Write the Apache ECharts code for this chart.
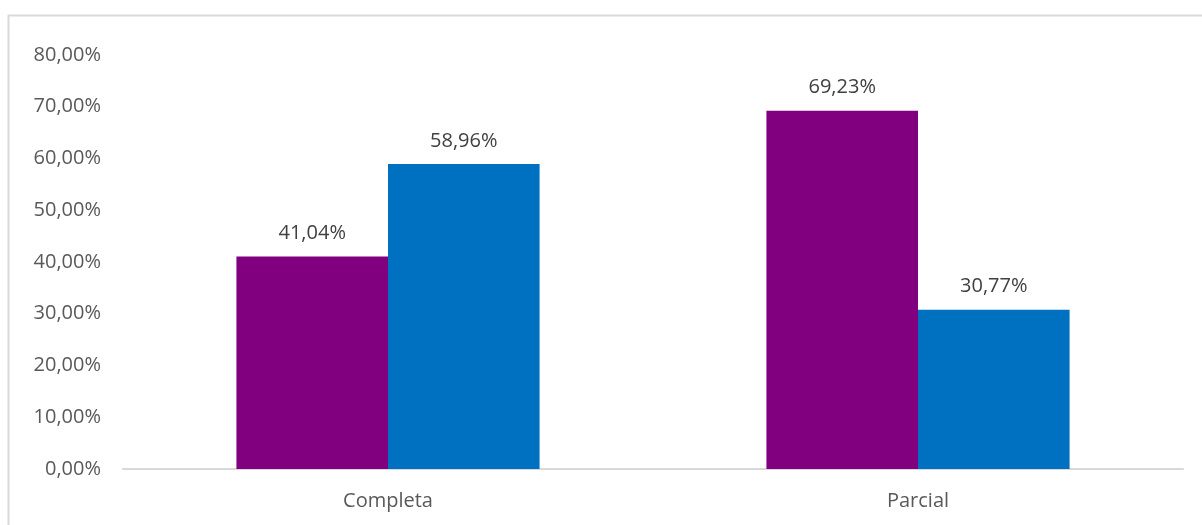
<!DOCTYPE html>
<html>
<head>
    <meta charset="utf-8"/>
    <script src="https://cdn.jsdelivr.net/npm/echarts@6/dist/echarts.min.js"></script>
    <style>
        body { margin: 0; background: #fff; }
    </style>
</head>
<body>
<div id="main" style="width: 1202px;height:525px;"></div>
<script type="text/javascript">
    // categorias e valores (%)
    var categorias = ['Completa', 'Parcial'];
    var serieRoxa = [41.04, 69.23];
    var serieAzul = [58.96, 30.77];
    var ticksY = [0, 10, 20, 30, 40, 50, 60, 70, 80];

    function pct(v) {
        return v.toFixed(2).replace('.', ',') + '%';
    }

    var myChart = echarts.init(document.getElementById('main'));

    var fonte = '"Open Sans", sans-serif';

    option = {
        animation: false,
        graphic: [{
            type: 'rect',
            shape: {x: 8.5, y: 15.5, width: 1400, height: 700},
            style: {fill: 'none', stroke: '#d9d9d9', lineWidth: 2}
        }],
        grid: {
            left: 123,
            right: 19,
            top: 55,
            bottom: 56
        },
        xAxis: {
            type: 'category',
            data: categorias,
            axisLine: {lineStyle: {color: '#d9d9d9', width: 2}},
            axisTick: {show: false},
            axisLabel: {
                color: '#595959',
                fontSize: 20,
                fontFamily: fonte,
                margin: 22
            }
        },
        yAxis: {
            type: 'value',
            min: ticksY[0],
            max: ticksY[ticksY.length - 1],
            interval: 10,
            splitLine: {show: false},
            axisLine: {show: false},
            axisTick: {show: false},
            axisLabel: {
                color: '#595959',
                fontSize: 20,
                fontFamily: fonte,
                margin: 22,
                formatter: function (v) { return pct(v); }
            }
        },
        series: [
            {
                name: 'A',
                type: 'bar',
                data: serieRoxa,
                barWidth: '28.6%',
                barGap: '0%',
                itemStyle: {color: '#800080'},
                label: {
                    show: true,
                    position: 'top',
                    distance: 13,
                    color: '#404040',
                    fontSize: 20,
                    fontFamily: fonte,
                    formatter: function (p) { return pct(p.value); }
                }
            },
            {
                name: 'B',
                type: 'bar',
                data: serieAzul,
                barWidth: '28.6%',
                itemStyle: {color: '#0070c0'},
                label: {
                    show: true,
                    position: 'top',
                    distance: 13,
                    color: '#404040',
                    fontSize: 20,
                    fontFamily: fonte,
                    formatter: function (p) { return pct(p.value); }
                }
            }
        ]
    };

    myChart.setOption(option);
</script>
</body>
</html>
